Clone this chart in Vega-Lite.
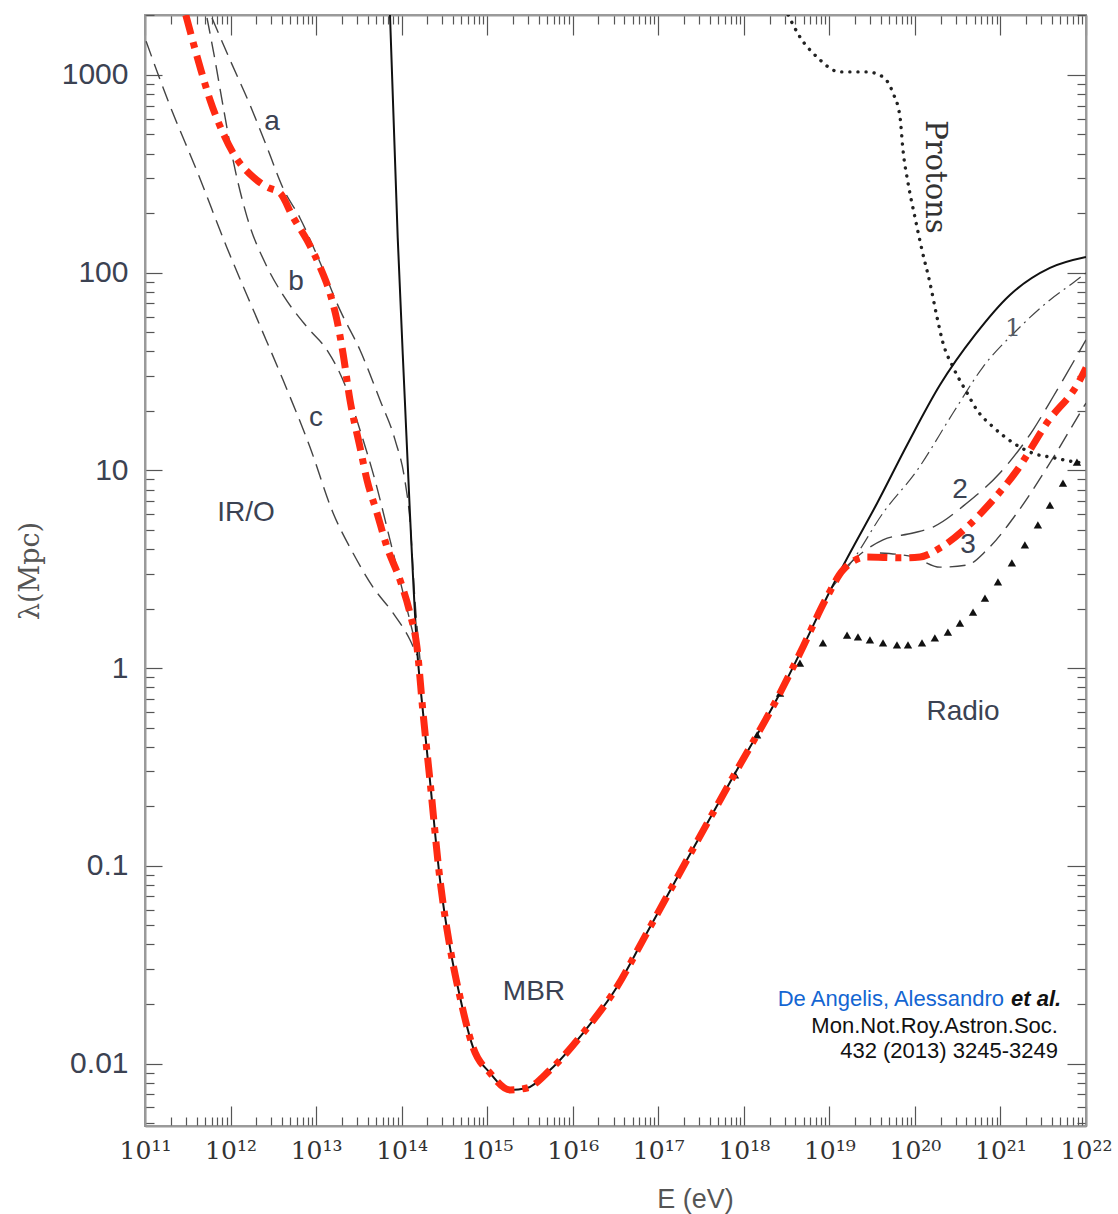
{
  "$schema": "https://vega.github.io/schema/vega-lite/v6.json",
  "width": 941,
  "height": 1111,
  "autosize": "none",
  "padding": {"left": 145, "top": 15, "right": 32, "bottom": 88},
  "background": "white",
  "config": {"view": {"stroke": "#9a9a9a", "strokeWidth": 2}},
  "datasets": {
    "curves": [
      {"s": "solid", "E": 7.31e13, "L": 2010},
      {"s": "solid", "E": 9.0e13, "L": 150},
      {"s": "solid", "E": 1.09e14, "L": 22.7},
      {"s": "solid", "E": 1.25e14, "L": 6.09},
      {"s": "solid", "E": 1.51e14, "L": 1.28},
      {"s": "solid", "E": 1.78e14, "L": 0.593},
      {"s": "solid", "E": 2.14e14, "L": 0.272},
      {"s": "solid", "E": 2.81e14, "L": 0.0848},
      {"s": "solid", "E": 3.67e14, "L": 0.0388},
      {"s": "solid", "E": 4.81e14, "L": 0.0217},
      {"s": "solid", "E": 6.82e14, "L": 0.0121},
      {"s": "solid", "E": 1.08e15, "L": 0.00895},
      {"s": "solid", "E": 1.85e15, "L": 0.00735},
      {"s": "solid", "E": 2.92e15, "L": 0.00752},
      {"s": "solid", "E": 5.42e15, "L": 0.00927},
      {"s": "solid", "E": 1.32e16, "L": 0.01426},
      {"s": "solid", "E": 3.29e16, "L": 0.0244},
      {"s": "solid", "E": 6.62e16, "L": 0.0421},
      {"s": "solid", "E": 2.22e17, "L": 0.1094},
      {"s": "solid", "E": 7.46e17, "L": 0.281},
      {"s": "solid", "E": 2.65e18, "L": 0.748},
      {"s": "solid", "E": 4.53e18, "L": 1.19},
      {"s": "solid", "E": 9.38e18, "L": 2.29},
      {"s": "solid", "E": 1.74e19, "L": 3.82},
      {"s": "solid", "E": 3.6e19, "L": 6.8},
      {"s": "solid", "E": 8.07e19, "L": 13.4},
      {"s": "solid", "E": 1.96e20, "L": 27.0},
      {"s": "solid", "E": 5.04e20, "L": 48.4},
      {"s": "solid", "E": 1.29e21, "L": 77.1},
      {"s": "solid", "E": 3.79e21, "L": 105.7},
      {"s": "solid", "E": 1e22, "L": 120},

      {"s": "total", "E": 3.0e11, "L": 2010},
      {"s": "total", "E": 4.4e11, "L": 1097},
      {"s": "total", "E": 5.75e11, "L": 748},
      {"s": "total", "E": 8.17e11, "L": 509},
      {"s": "total", "E": 1.07e12, "L": 403},
      {"s": "total", "E": 1.83e12, "L": 305},
      {"s": "total", "E": 2.67e12, "L": 271},
      {"s": "total", "E": 3.78e12, "L": 253},
      {"s": "total", "E": 5.37e12, "L": 191},
      {"s": "total", "E": 7.83e12, "L": 146},
      {"s": "total", "E": 1.11e13, "L": 107},
      {"s": "total", "E": 1.45e13, "L": 78.9},
      {"s": "total", "E": 1.75e13, "L": 57.7},
      {"s": "total", "E": 2.06e13, "L": 39.3},
      {"s": "total", "E": 2.49e13, "L": 22.7},
      {"s": "total", "E": 3.26e13, "L": 13.1},
      {"s": "total", "E": 3.94e13, "L": 8.93},
      {"s": "total", "E": 5.15e13, "L": 6.09},
      {"s": "total", "E": 6.74e13, "L": 4.1},
      {"s": "total", "E": 9.57e13, "L": 2.79},
      {"s": "total", "E": 1.25e14, "L": 1.9},
      {"s": "total", "E": 1.51e14, "L": 1.28},
      {"s": "total", "E": 1.78e14, "L": 0.593},
      {"s": "total", "E": 2.14e14, "L": 0.272},
      {"s": "total", "E": 2.81e14, "L": 0.0848},
      {"s": "total", "E": 3.67e14, "L": 0.0388},
      {"s": "total", "E": 4.81e14, "L": 0.0217},
      {"s": "total", "E": 6.82e14, "L": 0.0121},
      {"s": "total", "E": 1.08e15, "L": 0.00895},
      {"s": "total", "E": 1.85e15, "L": 0.00735},
      {"s": "total", "E": 2.92e15, "L": 0.00752},
      {"s": "total", "E": 5.42e15, "L": 0.00927},
      {"s": "total", "E": 1.32e16, "L": 0.01426},
      {"s": "total", "E": 3.29e16, "L": 0.0244},
      {"s": "total", "E": 6.62e16, "L": 0.0421},
      {"s": "total", "E": 2.22e17, "L": 0.1094},
      {"s": "total", "E": 7.46e17, "L": 0.281},
      {"s": "total", "E": 2.65e18, "L": 0.748},
      {"s": "total", "E": 4.53e18, "L": 1.19},
      {"s": "total", "E": 9.38e18, "L": 2.29},
      {"s": "total", "E": 1.44e19, "L": 3.13},
      {"s": "total", "E": 2.75e19, "L": 3.65},
      {"s": "total", "E": 6.69e19, "L": 3.61},
      {"s": "total", "E": 1.15e20, "L": 3.65},
      {"s": "total", "E": 1.96e20, "L": 4.05},
      {"s": "total", "E": 4.06e20, "L": 5.17},
      {"s": "total", "E": 8.17e20, "L": 7.08},
      {"s": "total", "E": 1.56e21, "L": 10.0},
      {"s": "total", "E": 3.5e21, "L": 17.4},
      {"s": "total", "E": 8.5e21, "L": 28.7},
      {"s": "total", "E": 1e22, "L": 33},

      {"s": "a", "E": 6.07e11, "L": 1941},
      {"s": "a", "E": 9.86e11, "L": 1191},
      {"s": "a", "E": 1.69e12, "L": 705},
      {"s": "a", "E": 2.74e12, "L": 418},
      {"s": "a", "E": 4.1e12, "L": 268},
      {"s": "a", "E": 6.48e12, "L": 189},
      {"s": "a", "E": 1.11e13, "L": 113},
      {"s": "a", "E": 1.9e13, "L": 64.8},
      {"s": "a", "E": 3.26e13, "L": 40.6},
      {"s": "a", "E": 5.58e13, "L": 22.7},
      {"s": "a", "E": 8.36e13, "L": 14.3},
      {"s": "a", "E": 1.09e14, "L": 8.93},
      {"s": "a", "E": 1.25e14, "L": 5.61},
      {"s": "a", "E": 1.43e14, "L": 2.21},
      {"s": "a", "E": 1.64e14, "L": 1.1},

      {"s": "b", "E": 5.31e11, "L": 1941},
      {"s": "b", "E": 6.58e11, "L": 1191},
      {"s": "b", "E": 7.94e11, "L": 748},
      {"s": "b", "E": 1.07e12, "L": 371},
      {"s": "b", "E": 1.56e12, "L": 191},
      {"s": "b", "E": 2.67e12, "L": 107},
      {"s": "b", "E": 4.1e12, "L": 77.1},
      {"s": "b", "E": 7.83e12, "L": 53.1},
      {"s": "b", "E": 1.34e13, "L": 40.6},
      {"s": "b", "E": 2.18e13, "L": 27.0},
      {"s": "b", "E": 3.26e13, "L": 16.0},
      {"s": "b", "E": 4.88e13, "L": 8.93},
      {"s": "b", "E": 7.31e13, "L": 4.45},
      {"s": "b", "E": 1.09e14, "L": 2.21},
      {"s": "b", "E": 1.51e14, "L": 1.24},

      {"s": "c", "E": 1.03e11, "L": 1480},
      {"s": "c", "E": 1.86e11, "L": 740},
      {"s": "c", "E": 4.15e11, "L": 318},
      {"s": "c", "E": 9.0e11, "L": 135},
      {"s": "c", "E": 2.05e12, "L": 58.2},
      {"s": "c", "E": 4.1e12, "L": 28.7},
      {"s": "c", "E": 8.49e12, "L": 13.1},
      {"s": "c", "E": 1.58e13, "L": 6.09},
      {"s": "c", "E": 2.7e13, "L": 3.82},
      {"s": "c", "E": 4.62e13, "L": 2.57},
      {"s": "c", "E": 7.92e13, "L": 1.9},
      {"s": "c", "E": 1.25e14, "L": 1.39},
      {"s": "c", "E": 1.51e14, "L": 1.16},

      {"s": "one", "E": 1.02e19, "L": 2.48},
      {"s": "one", "E": 1.89e19, "L": 3.52},
      {"s": "one", "E": 4.24e19, "L": 6.09},
      {"s": "one", "E": 1.06e20, "L": 10.0},
      {"s": "one", "E": 2.79e20, "L": 19.5},
      {"s": "one", "E": 6.24e20, "L": 33.3},
      {"s": "one", "E": 1.56e21, "L": 51.3},
      {"s": "one", "E": 3.79e21, "L": 72.8},
      {"s": "one", "E": 7.03e21, "L": 88.7},
      {"s": "one", "E": 1e22, "L": 99.6},

      {"s": "two", "E": 1.52e19, "L": 3.21},
      {"s": "two", "E": 2.1e19, "L": 3.65},
      {"s": "two", "E": 4.24e19, "L": 4.45},
      {"s": "two", "E": 9.49e19, "L": 4.82},
      {"s": "two", "E": 1.63e20, "L": 5.17},
      {"s": "two", "E": 4.06e20, "L": 6.84},
      {"s": "two", "E": 9.86e20, "L": 9.7},
      {"s": "two", "E": 2.4e21, "L": 16.0},
      {"s": "two", "E": 4.11e21, "L": 23.5},
      {"s": "two", "E": 1e22, "L": 45.7},

      {"s": "three", "E": 3.9e19, "L": 3.82},
      {"s": "three", "E": 9.49e19, "L": 3.65},
      {"s": "three", "E": 1.96e20, "L": 3.24},
      {"s": "three", "E": 4.06e20, "L": 3.32},
      {"s": "three", "E": 6.95e20, "L": 3.96},
      {"s": "three", "E": 1.56e21, "L": 6.09},
      {"s": "three", "E": 3.79e21, "L": 10.9},
      {"s": "three", "E": 8.5e21, "L": 19.5},
      {"s": "three", "E": 1e22, "L": 21.9},

      {"s": "protons", "E": 3.3e18, "L": 2010},
      {"s": "protons", "E": 4.53e18, "L": 1556},
      {"s": "protons", "E": 7.16e18, "L": 1233},
      {"s": "protons", "E": 1.33e19, "L": 1036},
      {"s": "protons", "E": 2.75e19, "L": 1036},
      {"s": "protons", "E": 4.24e19, "L": 977},
      {"s": "protons", "E": 5.54e19, "L": 811},
      {"s": "protons", "E": 6.69e19, "L": 614},
      {"s": "protons", "E": 7.25e19, "L": 418},
      {"s": "protons", "E": 8.3e19, "L": 285},
      {"s": "protons", "E": 1.0e20, "L": 191},
      {"s": "protons", "E": 1.21e20, "L": 130},
      {"s": "protons", "E": 1.5e20, "L": 88.7},
      {"s": "protons", "E": 1.81e20, "L": 59.7},
      {"s": "protons", "E": 2.13e20, "L": 44.1},
      {"s": "protons", "E": 2.79e20, "L": 33.3},
      {"s": "protons", "E": 4.06e20, "L": 24.7},
      {"s": "protons", "E": 5.31e20, "L": 20.2},
      {"s": "protons", "E": 8.17e20, "L": 16.6},
      {"s": "protons", "E": 1.4e21, "L": 13.8},
      {"s": "protons", "E": 2.4e21, "L": 12.2},
      {"s": "protons", "E": 4.11e21, "L": 11.6},
      {"s": "protons", "E": 7.84e21, "L": 11.0},
      {"s": "protons", "E": 1e22, "L": 10.9}
    ],
    "radio": [
      {"E": 7.89e17, "L": 0.288},
      {"E": 1.43e18, "L": 0.459},
      {"E": 2.65e18, "L": 0.748},
      {"E": 4.53e18, "L": 1.06},
      {"E": 8.41e18, "L": 1.34},
      {"E": 1.61e19, "L": 1.47},
      {"E": 2.16e19, "L": 1.44},
      {"E": 2.98e19, "L": 1.39},
      {"E": 4.24e19, "L": 1.34},
      {"E": 6.17e19, "L": 1.31},
      {"E": 8.3e19, "L": 1.31},
      {"E": 1.21e20, "L": 1.34},
      {"E": 1.71e20, "L": 1.42},
      {"E": 2.43e20, "L": 1.52},
      {"E": 3.36e20, "L": 1.69},
      {"E": 4.78e20, "L": 1.92},
      {"E": 6.59e20, "L": 2.26},
      {"E": 9.35e20, "L": 2.73},
      {"E": 1.36e21, "L": 3.41},
      {"E": 1.93e21, "L": 4.2},
      {"E": 2.74e21, "L": 5.3},
      {"E": 3.79e21, "L": 6.68},
      {"E": 5.38e21, "L": 8.63},
      {"E": 7.84e21, "L": 11.0}
    ],
    "labels": [
      {"g": "sans", "t": "a", "E": 3.06e12, "L": 578},
      {"g": "sans", "t": "b", "E": 5.82e12, "L": 89.7},
      {"g": "sans", "t": "c", "E": 9.98e12, "L": 18.4},
      {"g": "sans", "t": "IR/O", "E": 1.52e12, "L": 6.09},
      {"g": "sans", "t": "MBR", "E": 3.52e15, "L": 0.023},
      {"g": "sans", "t": "Radio", "E": 3.65e20, "L": 0.6},
      {"g": "sans", "t": "2", "E": 3.36e20, "L": 7.96},
      {"g": "sans", "t": "3", "E": 4.17e20, "L": 4.2},
      {"g": "serif", "t": "1", "E": 1.4e21, "L": 52.5},
      {"g": "protons", "t": "Protons", "E": 1.71e20, "L": 305},
      {"g": "blue", "t": "De Angelis, Alessandro", "E": 1.1e21, "L": 0.0212},
      {"g": "etal", "t": "et al.", "E": 1.33e21, "L": 0.0212},
      {"g": "ref", "t": "Mon.Not.Roy.Astron.Soc.", "E": 4.7e21, "L": 0.0155},
      {"g": "ref", "t": "432 (2013) 3245-3249", "E": 4.7e21, "L": 0.01155}
    ]
  },
  "resolve": {"axis": {"x": "independent", "y": "independent"}},
  "layer": [
    {
      "data": {"name": "curves"},
      "transform": [{"filter": "datum.s === 'a' || datum.s === 'b' || datum.s === 'c' || datum.s === 'three'"}],
      "mark": {"type": "line", "interpolate": "monotone", "color": "#444444", "strokeWidth": 1.4, "strokeDash": [16, 8], "clip": true},
      "encoding": {
        "detail": {"field": "s"},
        "x": {"field": "E", "type": "quantitative", "scale": {"type": "log", "domain": [1e11, 1e22], "nice": false},
          "axis": {
            "orient": "bottom",
            "values": [1e11,2e11,3e11,4e11,5e11,6e11,7e11,8e11,9e11,1e12,2e12,3e12,4e12,5e12,6e12,7e12,8e12,9e12,1e13,2e13,3e13,4e13,5e13,6e13,7e13,8e13,9e13,1e14,2e14,3e14,4e14,5e14,6e14,7e14,8e14,9e14,1e15,2e15,3e15,4e15,5e15,6e15,7e15,8e15,9e15,1e16,2e16,3e16,4e16,5e16,6e16,7e16,8e16,9e16,1e17,2e17,3e17,4e17,5e17,6e17,7e17,8e17,9e17,1e18,2e18,3e18,4e18,5e18,6e18,7e18,8e18,9e18,1e19,2e19,3e19,4e19,5e19,6e19,7e19,8e19,9e19,1e20,2e20,3e20,4e20,5e20,6e20,7e20,8e20,9e20,1e21,2e21,3e21,4e21,5e21,6e21,7e21,8e21,9e21,1e22],
            "labelExpr": "abs(log(datum.value)/LN10 - round(log(datum.value)/LN10)) < 0.001 ? '10' + substring('⁰¹²³⁴⁵⁶⁷⁸⁹', floor(round(log(datum.value)/LN10)/10), floor(round(log(datum.value)/LN10)/10)+1) + substring('⁰¹²³⁴⁵⁶⁷⁸⁹', round(log(datum.value)/LN10)%10, round(log(datum.value)/LN10)%10+1) : ''",
            "labelFont": "DejaVu Serif", "labelFontSize": 25, "labelColor": "#333333",
            "labelFlush": false, "labelOverlap": false, "labelBound": false,
            "labelPadding": 32, "labelBaseline": "top",
            "tickSize": {"condition": {"test": "abs(log(datum.value)/LN10 - round(log(datum.value)/LN10)) < 0.001", "value": -20}, "value": -9},
            "tickColor": "#555555", "tickWidth": 1.2,
            "domainColor": "#9a9a9a", "domainWidth": 2,
            "grid": false,
            "title": "E (eV)", "titleFont": "Liberation Sans", "titleFontSize": 27, "titleFontWeight": "normal", "titleColor": "#555555",
            "titleX": 550, "titleY": 81, "titleBaseline": "alphabetic", "titleAnchor": "middle", "titleAlign": "center"
          }},
        "y": {"field": "L", "type": "quantitative", "scale": {"type": "log", "domain": [0.00483, 2010], "nice": false},
          "axis": {
            "orient": "left",
            "values": [0.005,0.006,0.007,0.008,0.009,0.01,0.02,0.03,0.04,0.05,0.06,0.07,0.08,0.09,0.1,0.2,0.3,0.4,0.5,0.6,0.7,0.8,0.9,1,2,3,4,5,6,7,8,9,10,20,30,40,50,60,70,80,90,100,200,300,400,500,600,700,800,900,1000,2000],
            "labelExpr": "abs(log(datum.value)/LN10 - round(log(datum.value)/LN10)) < 0.001 ? format(datum.value, '~g') : ''",
            "labelFont": "Liberation Sans", "labelFontSize": 30, "labelColor": "#3b4252",
            "labelOverlap": false, "labelBound": false, "labelFlush": false,
            "labelPadding": 34, "labelBaseline": "middle",
            "tickSize": {"condition": {"test": "abs(log(datum.value)/LN10 - round(log(datum.value)/LN10)) < 0.001", "value": -17}, "value": -9},
            "tickColor": "#555555", "tickWidth": 1.2,
            "domainColor": "#9a9a9a", "domainWidth": 2,
            "grid": false,
            "title": "λ(Mpc)", "titleFont": "DejaVu Serif", "titleFontSize": 27, "titleFontWeight": "normal", "titleColor": "#555555",
            "titlePadding": 17
          }}
      }
    },
    {
      "data": {"name": "curves"},
      "transform": [{"filter": "datum.s === 'two'"}],
      "mark": {"type": "line", "interpolate": "monotone", "color": "#444444", "strokeWidth": 1.4, "strokeDash": [24, 9], "clip": true},
      "encoding": {
        "x": {"field": "E", "type": "quantitative", "scale": {"type": "log", "domain": [1e11, 1e22], "nice": false},
          "axis": {
            "orient": "top",
            "values": [1e11,2e11,3e11,4e11,5e11,6e11,7e11,8e11,9e11,1e12,2e12,3e12,4e12,5e12,6e12,7e12,8e12,9e12,1e13,2e13,3e13,4e13,5e13,6e13,7e13,8e13,9e13,1e14,2e14,3e14,4e14,5e14,6e14,7e14,8e14,9e14,1e15,2e15,3e15,4e15,5e15,6e15,7e15,8e15,9e15,1e16,2e16,3e16,4e16,5e16,6e16,7e16,8e16,9e16,1e17,2e17,3e17,4e17,5e17,6e17,7e17,8e17,9e17,1e18,2e18,3e18,4e18,5e18,6e18,7e18,8e18,9e18,1e19,2e19,3e19,4e19,5e19,6e19,7e19,8e19,9e19,1e20,2e20,3e20,4e20,5e20,6e20,7e20,8e20,9e20,1e21,2e21,3e21,4e21,5e21,6e21,7e21,8e21,9e21,1e22],
            "labels": false, "title": null, "grid": false,
            "tickSize": {"condition": {"test": "abs(log(datum.value)/LN10 - round(log(datum.value)/LN10)) < 0.001", "value": -20}, "value": -9},
            "tickColor": "#555555", "tickWidth": 1.2,
            "domainColor": "#9a9a9a", "domainWidth": 2
          }},
        "y": {"field": "L", "type": "quantitative", "scale": {"type": "log", "domain": [0.00483, 2010], "nice": false},
          "axis": {
            "orient": "right",
            "values": [0.005,0.006,0.007,0.008,0.009,0.01,0.02,0.03,0.04,0.05,0.06,0.07,0.08,0.09,0.1,0.2,0.3,0.4,0.5,0.6,0.7,0.8,0.9,1,2,3,4,5,6,7,8,9,10,20,30,40,50,60,70,80,90,100,200,300,400,500,600,700,800,900,1000,2000],
            "labels": false, "title": null, "grid": false,
            "tickSize": {"condition": {"test": "abs(log(datum.value)/LN10 - round(log(datum.value)/LN10)) < 0.001", "value": -19}, "value": -9},
            "tickColor": "#555555", "tickWidth": 1.2,
            "domainColor": "#9a9a9a", "domainWidth": 2
          }}
      }
    },
    {
      "data": {"name": "curves"},
      "transform": [{"filter": "datum.s === 'one'"}],
      "mark": {"type": "line", "interpolate": "monotone", "color": "#444444", "strokeWidth": 1.2, "strokeDash": [14, 5, 2, 5], "clip": true},
      "encoding": {
        "x": {"field": "E", "type": "quantitative", "axis": null},
        "y": {"field": "L", "type": "quantitative", "axis": null}
      }
    },
    {
      "data": {"name": "curves"},
      "transform": [{"filter": "datum.s === 'protons'"}],
      "mark": {"type": "line", "interpolate": "monotone", "color": "#222222", "strokeWidth": 3.4, "strokeDash": [0.1, 8], "strokeCap": "round", "clip": true},
      "encoding": {
        "x": {"field": "E", "type": "quantitative", "axis": null},
        "y": {"field": "L", "type": "quantitative", "axis": null}
      }
    },
    {
      "data": {"name": "radio"},
      "mark": {"type": "point", "shape": "triangle-up", "filled": true, "color": "#111111", "opacity": 1, "size": 70, "clip": true},
      "encoding": {
        "x": {"field": "E", "type": "quantitative", "axis": null},
        "y": {"field": "L", "type": "quantitative", "axis": null}
      }
    },
    {
      "data": {"name": "curves"},
      "transform": [{"filter": "datum.s === 'solid'"}],
      "mark": {"type": "line", "interpolate": "monotone", "color": "#111111", "strokeWidth": 2, "clip": true},
      "encoding": {
        "x": {"field": "E", "type": "quantitative", "axis": null},
        "y": {"field": "L", "type": "quantitative", "axis": null}
      }
    },
    {
      "data": {"name": "curves"},
      "transform": [{"filter": "datum.s === 'total'"}],
      "mark": {"type": "line", "interpolate": "monotone", "color": "#ff2a12", "strokeWidth": 7, "strokeDash": [20, 8, 6, 8], "strokeCap": "butt", "clip": true},
      "encoding": {
        "x": {"field": "E", "type": "quantitative", "axis": null},
        "y": {"field": "L", "type": "quantitative", "axis": null}
      }
    },
    {
      "data": {"name": "labels"},
      "transform": [{"filter": "datum.g === 'sans'"}],
      "mark": {"type": "text", "font": "Liberation Sans", "fontSize": 28, "color": "#3b4252", "align": "center", "baseline": "middle"},
      "encoding": {
        "x": {"field": "E", "type": "quantitative", "axis": null},
        "y": {"field": "L", "type": "quantitative", "axis": null},
        "text": {"field": "t"}
      }
    },
    {
      "data": {"name": "labels"},
      "transform": [{"filter": "datum.g === 'serif'"}],
      "mark": {"type": "text", "font": "DejaVu Serif", "fontSize": 25, "color": "#555a66", "align": "center", "baseline": "middle"},
      "encoding": {
        "x": {"field": "E", "type": "quantitative", "axis": null},
        "y": {"field": "L", "type": "quantitative", "axis": null},
        "text": {"field": "t"}
      }
    },
    {
      "data": {"name": "labels"},
      "transform": [{"filter": "datum.g === 'protons'"}],
      "mark": {"type": "text", "font": "DejaVu Serif", "fontSize": 29, "color": "#333333", "align": "center", "baseline": "middle", "angle": 90},
      "encoding": {
        "x": {"field": "E", "type": "quantitative", "axis": null},
        "y": {"field": "L", "type": "quantitative", "axis": null},
        "text": {"field": "t"}
      }
    },
    {
      "data": {"name": "labels"},
      "transform": [{"filter": "datum.g === 'blue'"}],
      "mark": {"type": "text", "font": "Liberation Sans", "fontSize": 22, "color": "#1466d2", "align": "right", "baseline": "middle"},
      "encoding": {
        "x": {"field": "E", "type": "quantitative", "axis": null},
        "y": {"field": "L", "type": "quantitative", "axis": null},
        "text": {"field": "t"}
      }
    },
    {
      "data": {"name": "labels"},
      "transform": [{"filter": "datum.g === 'etal'"}],
      "mark": {"type": "text", "font": "Liberation Sans", "fontSize": 22, "fontStyle": "italic", "fontWeight": "bold", "color": "#111111", "align": "left", "baseline": "middle"},
      "encoding": {
        "x": {"field": "E", "type": "quantitative", "axis": null},
        "y": {"field": "L", "type": "quantitative", "axis": null},
        "text": {"field": "t"}
      }
    },
    {
      "data": {"name": "labels"},
      "transform": [{"filter": "datum.g === 'ref'"}],
      "mark": {"type": "text", "font": "Liberation Sans", "fontSize": 22, "color": "#111111", "align": "right", "baseline": "middle"},
      "encoding": {
        "x": {"field": "E", "type": "quantitative", "axis": null},
        "y": {"field": "L", "type": "quantitative", "axis": null},
        "text": {"field": "t"}
      }
    }
  ]
}
